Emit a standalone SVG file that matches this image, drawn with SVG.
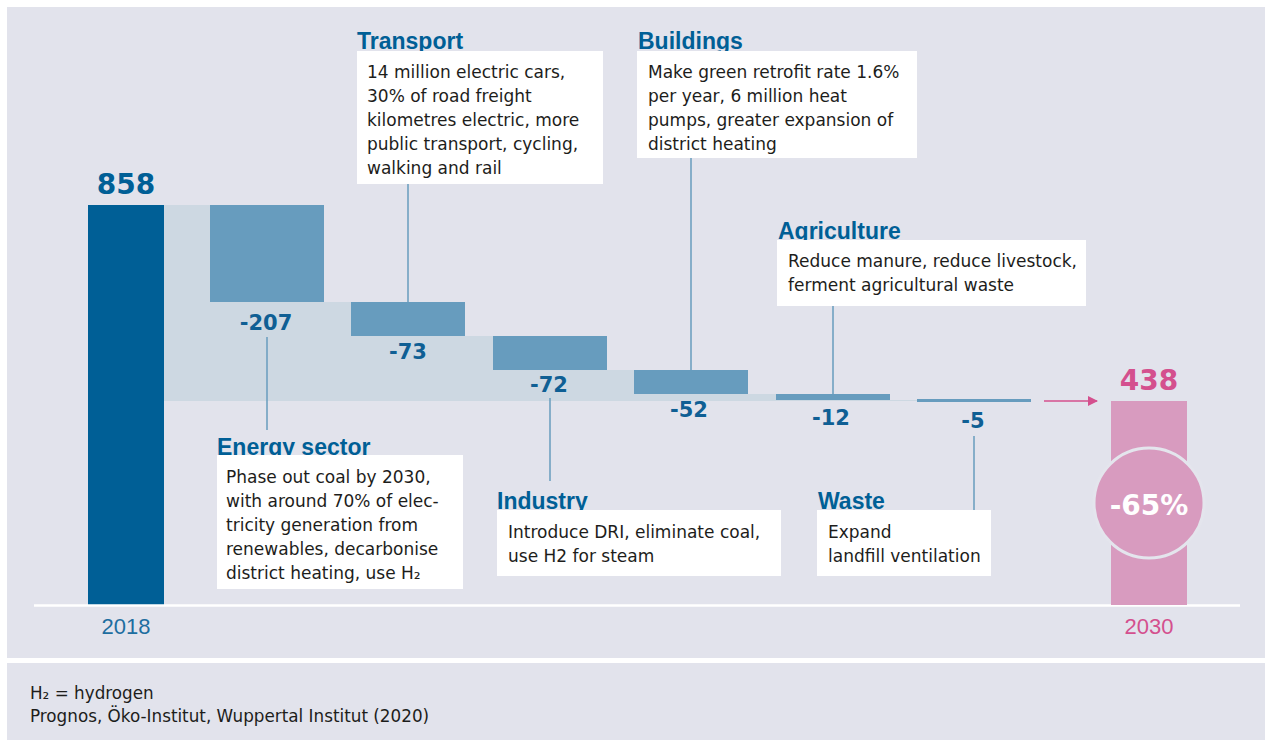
<svg xmlns="http://www.w3.org/2000/svg" width="1265" height="740" viewBox="0 0 1265 740">
<style>
.title{font-family:"Liberation Sans",Arial,sans-serif;font-weight:bold;font-size:23px;fill:#005f96}
.body{font-family:"DejaVu Sans",sans-serif;font-size:17px;fill:#1d1d1b}
.val{font-family:"DejaVu Sans",sans-serif;font-weight:bold;font-size:21px;fill:#0f5f94;text-anchor:middle}
.big{font-family:"DejaVu Sans",sans-serif;font-weight:bold;font-size:28px;text-anchor:middle}
.year{font-family:"Liberation Sans",Arial,sans-serif;font-size:22px;text-anchor:middle}
.foot{font-family:"DejaVu Sans",sans-serif;font-size:16.8px;fill:#1d1d1b}
.box{fill:#ffffff}
.bar{fill:#679cbe}
.conn{stroke:#679cbe;stroke-width:1.5;fill:none}
</style>
<defs>
<marker id="arr" markerWidth="10" markerHeight="10" refX="9" refY="5" orient="auto" markerUnits="userSpaceOnUse">
<path d="M0,0 L10,5 L0,10 Z" fill="#d4508e"/>
</marker>
</defs>
<rect x="0" y="0" width="1265" height="740" fill="#ffffff"/>
<rect x="7" y="7" width="1258" height="651" fill="#e2e3ec"/>
<rect x="7" y="663" width="1258" height="77" fill="#e2e3ec"/>

<g id="band">
<polygon points="164,205 324,205 324,302 465,302 465,336 607,336 607,370 748,370 748,394 890,394 890,400 1031,400 1031,401 164,401" fill="#cdd8e2"/>
</g>

<g id="bar-2018">
<rect x="88" y="205" width="76" height="400" fill="#005f96"/>
<text class="big" x="126" y="194" fill="#005f96">858</text>
<text class="year" x="126" y="634" fill="#1e6ea0">2018</text>
</g>

<g id="bars">
<rect class="bar" x="210" y="205" width="114" height="97"/>
<rect class="bar" x="351" y="302" width="114" height="34"/>
<rect class="bar" x="493" y="336" width="114" height="34"/>
<rect class="bar" x="634" y="370" width="114" height="24"/>
<rect class="bar" x="776" y="394" width="114" height="6"/>
<rect class="bar" x="917" y="399" width="114" height="3"/>
<text class="val" x="266" y="330">-207</text>
<text class="val" x="408" y="359">-73</text>
<text class="val" x="549" y="392">-72</text>
<text class="val" x="689" y="417">-52</text>
<text class="val" x="831" y="425">-12</text>
<text class="val" x="973" y="428">-5</text>
</g>

<line x1="34" y1="605.5" x2="1240" y2="605.5" stroke="#ffffff" stroke-width="2.5"/>

<g id="connectors">
<line class="conn" x1="267" y1="337" x2="267" y2="430"/>
<line class="conn" x1="408" y1="184" x2="408" y2="302"/>
<line class="conn" x1="550" y1="398" x2="550" y2="481"/>
<line class="conn" x1="691" y1="158" x2="691" y2="370"/>
<line class="conn" x1="833" y1="306" x2="833" y2="394"/>
<line class="conn" x1="974" y1="436" x2="974" y2="510"/>
<line x1="1044" y1="401" x2="1097" y2="401" stroke="#d4508e" stroke-width="1.5" marker-end="url(#arr)"/>
</g>

<g id="transport">
<text class="title" x="357" y="49">Transport</text>
<rect class="box" x="357" y="51" width="246" height="133"/>
<text class="body" x="367" y="78">14 million electric cars,</text>
<text class="body" x="367" y="102">30% of road freight</text>
<text class="body" x="367" y="126">kilometres electric, more</text>
<text class="body" x="367" y="150">public transport, cycling,</text>
<text class="body" x="367" y="174">walking and rail</text>
</g>

<g id="buildings">
<text class="title" x="638" y="49">Buildings</text>
<rect class="box" x="637" y="51" width="280" height="107"/>
<text class="body" x="648" y="78">Make green retrofit rate 1.6%</text>
<text class="body" x="648" y="102">per year, 6 million heat</text>
<text class="body" x="648" y="126">pumps, greater expansion of</text>
<text class="body" x="648" y="150">district heating</text>
</g>

<g id="agriculture">
<text class="title" x="778" y="239">Agriculture</text>
<rect class="box" x="777" y="240" width="309" height="66"/>
<text class="body" x="788" y="267">Reduce manure, reduce livestock,</text>
<text class="body" x="788" y="291">ferment agricultural waste</text>
</g>

<g id="energy">
<text class="title" x="217" y="455">Energy sector</text>
<rect class="box" x="217" y="455" width="246" height="134"/>
<text class="body" x="226" y="483">Phase out coal by 2030,</text>
<text class="body" x="226" y="507">with around 70% of elec-</text>
<text class="body" x="226" y="531">tricity generation from</text>
<text class="body" x="226" y="555">renewables, decarbonise</text>
<text class="body" x="226" y="579">district heating, use H₂</text>
</g>

<g id="industry">
<text class="title" x="497" y="509">Industry</text>
<rect class="box" x="497" y="510" width="284" height="66"/>
<text class="body" x="508" y="538">Introduce DRI, eliminate coal,</text>
<text class="body" x="508" y="562">use H2 for steam</text>
</g>

<g id="waste">
<text class="title" x="818" y="509">Waste</text>
<rect class="box" x="817" y="510" width="174" height="66"/>
<text class="body" x="828" y="538">Expand</text>
<text class="body" x="828" y="562">landfill ventilation</text>
</g>

<g id="bar-2030">
<rect x="1111" y="401" width="76" height="204" fill="#d89bbf"/>
<circle cx="1149" cy="503" r="55" fill="#d89bbf" stroke="#e4e5ed" stroke-width="3"/>
<text x="1149" y="515" font-family="DejaVu Sans, sans-serif" font-weight="bold" font-size="28" fill="#ffffff" text-anchor="middle">-65%</text>
<text class="big" x="1149" y="390" fill="#d4508e">438</text>
<text class="year" x="1149" y="634" fill="#d4508e">2030</text>
</g>

<g id="footer">
<text class="foot" x="30" y="699">H₂ = hydrogen</text>
<text class="foot" x="30" y="722">Prognos, Öko-Institut, Wuppertal Institut (2020)</text>
</g>
</svg>
